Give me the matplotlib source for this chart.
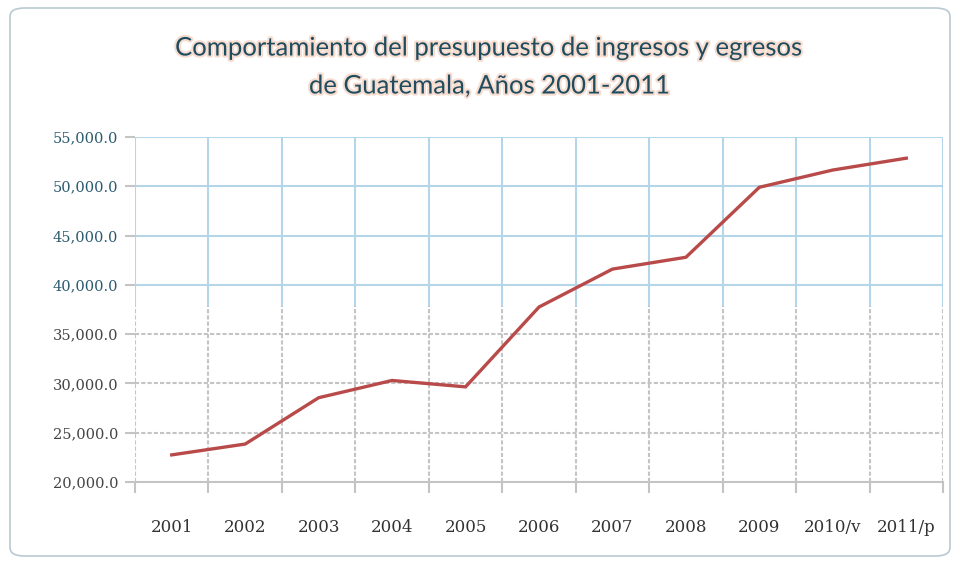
import numpy as np
import matplotlib as mpl
mpl.use('Agg')
import matplotlib.pyplot as plt
from matplotlib.patches import FancyBboxPatch
import matplotlib.patheffects as pe

years = ['2001', '2002', '2003', '2004', '2005', '2006', '2007', '2008', '2009', '2010/v', '2011/p']
presupuesto = [22750, 23850, 28550, 30300, 29650, 37750, 41600, 42800, 49900, 51650, 52850]
yticks = [20000, 25000, 30000, 35000, 40000, 45000, 50000, 55000]

fig = plt.figure(figsize=(9.6, 5.64), dpi=100)
ax = fig.add_axes([135/960, 1-482/564, (943-135)/960, (482-137)/564])

# rounded frame around the whole chart
frame = FancyBboxPatch((10/960, 8/564), 940/960, 548/564, boxstyle="round,pad=0,rounding_size=0.015",
                       transform=fig.transFigure, fill=False, edgecolor='#b9c9d3', lw=1.2)
fig.patches.append(frame)

x = np.arange(len(years))
n = len(years)
ax.set_xlim(-0.5, n - 0.5)
ax.set_ylim(20000, 55000)

# grid: bluish in the upper part, gray dotted in the lower part (as in the scan)
blue = '#b5d6e8'
gray = '#c4c4c4'
for v in yticks[1:]:
    if v >= 40000:
        ax.axhline(v, color=blue, lw=1.5, zorder=1)
    else:
        ax.axhline(v, color=gray, lw=1.5, ls=(0, (2, 1)), zorder=1)
split = (40000 - 20000) / 35000.0 - 0.06
for b in np.arange(-0.5, n, 1):
    ax.axvline(b, ymin=split, ymax=1, color=blue, lw=1.5, zorder=1)
    ax.axvline(b, ymin=0, ymax=split, color=gray, lw=1.5, ls=(0, (2, 1)), zorder=1)

ax.plot(x, presupuesto, color='#b94a4a', lw=2.4, zorder=3, solid_joinstyle='miter')

for s in ['top', 'right', 'left']:
    ax.spines[s].set_visible(False)
ax.spines['bottom'].set_color(gray)
ax.spines['bottom'].set_linewidth(1.5)

ax.set_yticks(yticks)
ax.set_yticklabels(['{:,.1f}'.format(v) for v in yticks], fontsize=10.5, family='DejaVu Serif')
for lab, v in zip(ax.get_yticklabels(), yticks):
    lab.set_color('#2a5a6e' if v >= 40000 else '#444444')
ax.tick_params(axis='y', length=7, color=gray, width=1.5, pad=5)

ax.set_xticks(np.arange(-0.5, n, 1))
ax.set_xticklabels([])
ax.tick_params(axis='x', which='major', length=8, color=gray, width=1.5, direction='out')
ax.set_xticks(x, minor=True)
ax.set_xticklabels(years, minor=True, fontsize=12, family='DejaVu Serif', color='#333333')
ax.tick_params(axis='x', which='minor', length=0, pad=27)

glow = [pe.withStroke(linewidth=3, foreground='#f7dcd0')]
fig.text(490/960, 1-48/564, 'Comportamiento del presupuesto de ingresos y egresos',
         ha='center', va='center', fontsize=18.5, family='Lato', color='#1f4d60', path_effects=glow)
fig.text(490/960, 1-86/564, 'de Guatemala, Años 2001-2011',
         ha='center', va='center', fontsize=18.5, family='Lato', color='#1f4d60', path_effects=glow)

fig.savefig('out.png', dpi=100)
